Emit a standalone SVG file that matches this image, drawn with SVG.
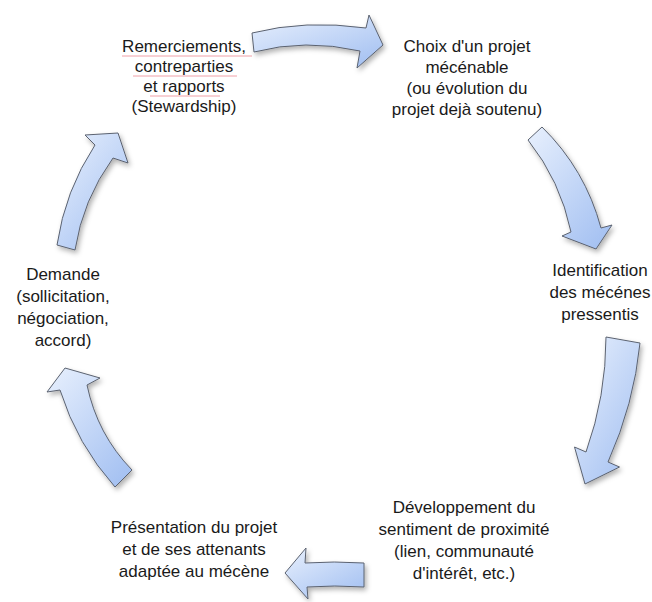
<svg xmlns="http://www.w3.org/2000/svg" width="652" height="602" viewBox="0 0 652 602">
<defs>
<linearGradient id="g" x1="0" y1="0" x2="0.8" y2="1">
<stop offset="0" stop-color="#e8f0fd"/>
<stop offset="1" stop-color="#a6c2f2"/>
</linearGradient>
<filter id="sh" x="-20%" y="-20%" width="140%" height="140%">
<feDropShadow dx="2" dy="3" stdDeviation="2.5" flood-color="#000" flood-opacity="0.3"/>
</filter>
<style>
.arr{fill:url(#g);stroke:#5b6270;stroke-width:1;stroke-linejoin:miter;filter:url(#sh)}
.t{font-family:"Liberation Sans",Arial,sans-serif;font-size:17px;fill:#1a1a1a;text-anchor:middle}
.sp{stroke:#f0a0a8;stroke-width:1;fill:none}
</style>
</defs>
<rect width="652" height="602" fill="#fff"/>
<g id="connectors">
<path class="arr" d="M252,33 Q305,19.5 366,28 L369,15 L383,45 L357,68 L360,51 Q305,38.5 254,52 Z"/>
<path class="arr" d="M528,140 Q560.4,180.9 571,232 L562,236 L596,249 L612,225 L601,228 Q585.3,169.4 542,127 Z"/>
<path class="arr" d="M606,337 Q606,396 586,452 L574.5,447 L585,484 L619.5,467 L608,462 Q634,404 640,343 Z"/>
<path class="arr" d="M364,563 Q334,561 305,563 L306,548 L285,573 L308,599 L307,587 Q334,585 364,587 Z"/>
<path class="arr" d="M115,487 Q77,444.4 60,390 L47,392 L65,368 L100,378 L87,385 Q97.3,434.4 132,470 Z"/>
<path class="arr" d="M57,245 Q65,190.7 95,145 L85,135 L118,133 L128,163 L113,158 Q82.8,199.7 75,250 Z"/>
</g>
<g id="n1">
<text class="t" x="184" y="52">Remerciements,</text>
<text class="t" x="184" y="72">contreparties</text>
<text class="t" x="184" y="92">et rapports</text>
<text class="t" x="184" y="112">(Stewardship)</text>
<path class="sp" d="M122,56 H252 M133,76 H237 M150,96 H220"/>
</g>
<g id="n2">
<text class="t" x="467" y="52">Choix d'un projet</text>
<text class="t" x="467" y="73">mécénable</text>
<text class="t" x="467" y="94">(ou évolution du</text>
<text class="t" x="467" y="115">projet dejà soutenu)</text>
</g>
<g id="n3">
<text class="t" x="600" y="276">Identification</text>
<text class="t" x="600" y="298">des mécénes</text>
<text class="t" x="600" y="320">pressentis</text>
</g>
<g id="n4">
<text class="t" x="464" y="513">Développement du</text>
<text class="t" x="464" y="535">sentiment de proximité</text>
<text class="t" x="464" y="557">(lien, communauté</text>
<text class="t" x="464" y="579">d'intérêt, etc.)</text>
</g>
<g id="n5">
<text class="t" x="194" y="533">Présentation du projet</text>
<text class="t" x="194" y="555">et de ses attenants</text>
<text class="t" x="194" y="577">adaptée au mécène</text>
</g>
<g id="n6">
<text class="t" x="63" y="280">Demande</text>
<text class="t" x="63" y="302">(sollicitation,</text>
<text class="t" x="63" y="324">négociation,</text>
<text class="t" x="63" y="346">accord)</text>
</g>
</svg>
